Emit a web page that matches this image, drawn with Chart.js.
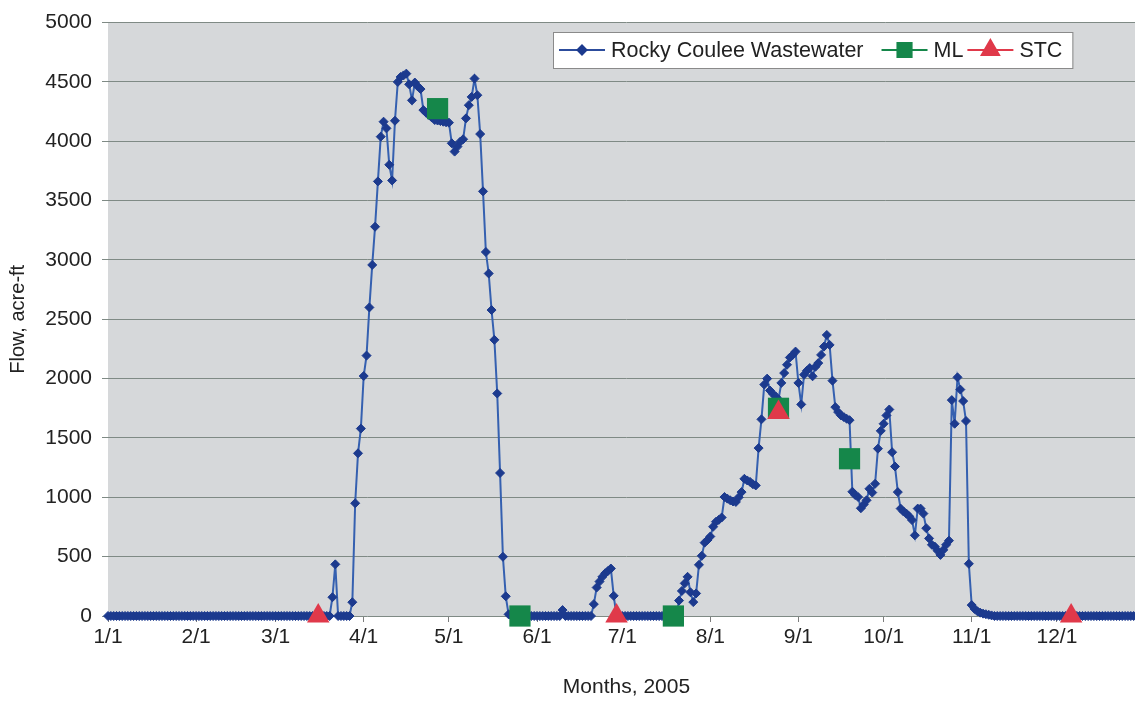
<!DOCTYPE html>
<html>
<head>
<meta charset="utf-8">
<script src="https://cdn.jsdelivr.net/npm/chart.js@4.4.1/dist/chart.umd.min.js"></script>
<style>
  html, body { margin: 0; padding: 0; background: #fff; overflow: hidden; }
  #wrap { width: 1160px; height: 701px; }
</style>
</head>
<body>
<div id="wrap"><canvas id="flow" width="1160" height="701"></canvas></div>
<script>
// daily flow, acre-ft (one value per day)
const jan = [0,0,0,0,0,0,0,0,0,0,0,0,0,0,0,0,0,0,0,0,0,0,0,0,0,0,0,0,0,0,0];
const feb = [0,0,0,0,0,0,0,0,0,0,0,0,0,0,0,0,0,0,0,0,0,0,0,0,0,0,0,0];
const mar = [0,0,0,0,0,0,0,0,0,0,0,0,0,0,0,0,0,0,0,0,158,435,0,0,0,0,0,116,950,1371,1579];
const apr = [2022,2194,2600,2958,3280,3662,4039,4165,4109,3802,3670,4173,4500,4542,4555,4570,4480,4345,4495,4463,4440,4263,4240,4221,4200,4179,4175,4170,4165,4160];
const may = [4157,3983,3913,3955,3997,4017,4193,4304,4374,4528,4388,4061,3578,3067,2886,2578,2327,1875,1205,499,166,14,0,0,0,0,0,0,0,0,0];
const jun = [0,0,0,0,0,0,0,0,0,50,0,0,0,0,0,0,0,0,0,0,100,240,290,330,360,380,400,170,0,0];
const jul = [0,0,0,0,0,0,0,0,0,0,0,0,0,0,0,0,0,0,0,0,130,211,275,330,200,117,190,431,507,618,640];
const aug = [670,752,794,810,830,1003,989,975,965,961,1000,1044,1156,1142,1130,1110,1100,1415,1657,1950,2000,1900,1872,1850,1824,1964,2047,2117,2178,2200,2228];
const sep = [1964,1783,2033,2067,2089,2020,2100,2131,2200,2270,2368,2284,1983,1760,1718,1690,1676,1662,1650,1047,1019,1003,908,940,975,1072,1040,1114,1410,1560];
const oct = [1620,1690,1740,1380,1260,1044,905,880,863,840,808,680,905,905,863,740,654,600,585,550,515,557,600,635,1819,1620,2011,1908,1811,1643,440];
const nov = [92,60,40,28,20,15,10,5,0,0,0,0,0,0,0,0,0,0,0,0,0,0,0,0,0,0,0,0,0,0];
const dec = [0,0,0,0,0,0,0,0,0,0,0,0,0,0,0,0,0,0,0,0,0,0,0,0,0,0,0,0,0,0,0];

// spot samples: day of year (0 = Jan 1) and flow
const mlDays = [116, 145, 199, 236, 261];
const mlValues = [4275, 0, 0, 1750, 1325];
const stcDays = [74, 179, 236, 339];
const stcValues = [0, 0, 1715, 0];

// axis ticks
const monthStarts = [0, 31, 59, 90, 120, 151, 181, 212, 243, 273, 304, 334];
const monthLabels = ['1/1','2/1','3/1','4/1','5/1','6/1','7/1','8/1','9/1','10/1','11/1','12/1'];
const yTicks = [0, 500, 1000, 1500, 2000, 2500, 3000, 3500, 4000, 4500, 5000];

const FONT = '"Liberation Sans", Arial, Helvetica, sans-serif';
const flow = [].concat(jan, feb, mar, apr, may, jun, jul, aug, sep, oct, nov, dec);

const plotBackground = {
  id: 'plotBackground',
  beforeDraw(chart) {
    const a = chart.chartArea;
    const ctx = chart.ctx;
    ctx.save();
    ctx.fillStyle = '#d6d8da';
    ctx.fillRect(a.left, a.top, a.right - a.left, a.bottom - a.top);
    ctx.restore();
  }
};

// legend box with line + marker samples, like the spreadsheet legend
const legendBox = {
  id: 'legendBox',
  afterDraw(chart) {
    const ctx = chart.ctx;
    ctx.save();
    ctx.font = '21.5px ' + FONT;
    const top = 32, h = 36, left = 553;
    const cy = top + h / 2;
    const gaps = [18, 4, 0];
    let x = left + 6;
    const pieces = chart.data.datasets.map((ds, i) => {
      const w = ctx.measureText(ds.label).width;
      const p = { ds, x, tx: x + 52 };
      x = p.tx + w + gaps[i];
      return p;
    });
    const right = x + 10;
    ctx.fillStyle = '#ffffff';
    ctx.fillRect(left, top, right - left, h);
    ctx.strokeStyle = '#8a8a8a';
    ctx.lineWidth = 1;
    ctx.strokeRect(left + 0.5, top + 0.5, right - left, h);
    pieces.forEach(p => {
      const ds = p.ds;
      ctx.strokeStyle = ds.legendLine;
      ctx.lineWidth = 2;
      ctx.beginPath();
      ctx.moveTo(p.x, cy);
      ctx.lineTo(p.x + 46, cy);
      ctx.stroke();
      ctx.fillStyle = ds.pointBackgroundColor;
      ctx.strokeStyle = ds.pointBorderColor;
      Chart.helpers.drawPoint(ctx, {
        pointStyle: ds.pointStyle,
        radius: ds.legendRadius,
        rotation: 0,
        borderWidth: 1
      }, p.x + 23, cy);
      ctx.fillStyle = '#222';
      ctx.textBaseline = 'middle';
      ctx.textAlign = 'left';
      ctx.fillText(ds.label, p.tx, cy + 1);
    });
    ctx.restore();
  }
};

new Chart(document.getElementById('flow'), {
  type: 'line',
  data: {
    datasets: [
      {
        label: 'Rocky Coulee Wastewater',
        data: flow.map((v, d) => ({ x: d, y: v })),
        borderColor: '#3560b0',
        borderWidth: 2,
        pointStyle: 'rectRot',
        pointRadius: 4.5,
        pointBackgroundColor: '#1c3a8e',
        pointBorderColor: '#1c3a8e',
        pointBorderWidth: 1,
        legendLine: '#2c4c9c',
        legendRadius: 4.5,
        tension: 0,
        clip: false,
        order: 3
      },
      {
        label: 'ML',
        data: mlDays.map((d, i) => ({ x: d, y: mlValues[i] })),
        showLine: false,
        pointStyle: 'rect',
        pointRadius: 15,
        pointBackgroundColor: '#15874a',
        pointBorderColor: '#15874a',
        pointBorderWidth: 0,
        legendLine: '#15874a',
        legendRadius: 10,
        clip: false,
        order: 2
      },
      {
        label: 'STC',
        data: stcDays.map((d, i) => ({ x: d, y: stcValues[i] })),
        showLine: false,
        pointStyle: 'triangle',
        pointRadius: 13,
        pointBackgroundColor: '#e0394a',
        pointBorderColor: '#e0394a',
        pointBorderWidth: 0,
        legendLine: '#e0394a',
        legendRadius: 10,
        clip: false,
        order: 1
      }
    ]
  },
  options: {
    responsive: false,
    animation: false,
    events: [],
    layout: { padding: { top: 19, right: 0, bottom: 0, left: 0 } },
    plugins: {
      legend: { display: false },
      tooltip: { enabled: false }
    },
    scales: {
      x: {
        type: 'linear',
        min: 0,
        max: 365,
        afterBuildTicks: s => { s.ticks = monthStarts.map(v => ({ value: v })); },
        afterFit: s => { s.height = 85; },
        grid: { drawOnChartArea: false, drawTicks: true, tickLength: 6, color: '#7d7d7d' },
        border: { display: false },
        ticks: {
          color: '#222',
          padding: 3,
          maxRotation: 0,
          autoSkip: false,
          font: { family: FONT, size: 21 },
          callback: (v, i) => monthLabels[i]
        },
        title: {
          display: true,
          text: 'Months, 2005',
          color: '#222',
          font: { family: FONT, size: 21 },
          padding: { top: 4, bottom: 1 }
        }
      },
      y: {
        min: 0,
        max: 5000,
        afterBuildTicks: s => { s.ticks = yTicks.map(v => ({ value: v })); },
        afterFit: s => { s.width = 108; },
        grid: { color: '#7f8a85', lineWidth: 1, tickLength: 6 },
        border: { display: false },
        ticks: {
          color: '#222',
          padding: 10,
          font: { family: FONT, size: 21 },
          callback: v => String(v)
        },
        title: {
          display: true,
          text: 'Flow, acre-ft',
          color: '#222',
          font: { family: FONT, size: 20 },
          padding: { top: 6, bottom: 0 }
        }
      }
    }
  },
  plugins: [plotBackground, legendBox]
});
</script>
</body>
</html>
